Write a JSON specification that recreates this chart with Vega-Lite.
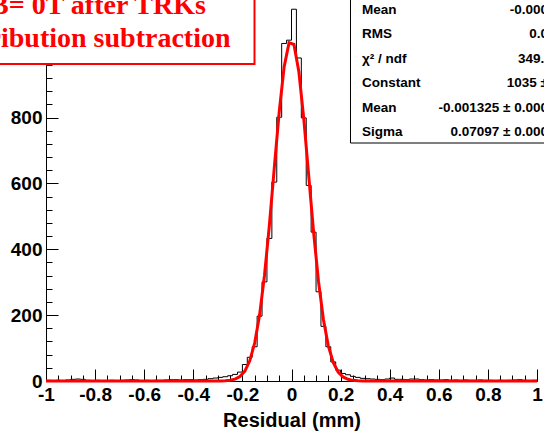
{
  "$schema": "https://vega.github.io/schema/vega-lite/v6.json",
  "width": 491,
  "height": 381,
  "autosize": "none",
  "padding": {"left": 46, "top": 0, "right": 7, "bottom": 51},
  "background": "white",
  "config": {"view": {"stroke": null}},
  "resolve": {"axis": {"x": "independent", "y": "independent"}},
  "datasets": {
    "hist": [
      {"x": -1.00, "n": 2}, {"x": -0.98, "n": 1}, {"x": -0.96, "n": 2}, {"x": -0.94, "n": 1}, {"x": -0.92, "n": 3},
      {"x": -0.90, "n": 5}, {"x": -0.88, "n": 6}, {"x": -0.86, "n": 5}, {"x": -0.84, "n": 2}, {"x": -0.82, "n": 1},
      {"x": -0.80, "n": 2}, {"x": -0.78, "n": 1}, {"x": -0.76, "n": 1}, {"x": -0.74, "n": 2}, {"x": -0.72, "n": 1},
      {"x": -0.70, "n": 2}, {"x": -0.68, "n": 3}, {"x": -0.66, "n": 4}, {"x": -0.64, "n": 3}, {"x": -0.62, "n": 1},
      {"x": -0.60, "n": 2}, {"x": -0.58, "n": 1}, {"x": -0.56, "n": 2}, {"x": -0.54, "n": 2}, {"x": -0.52, "n": 3},
      {"x": -0.50, "n": 4}, {"x": -0.48, "n": 4}, {"x": -0.46, "n": 3}, {"x": -0.44, "n": 4}, {"x": -0.42, "n": 4},
      {"x": -0.40, "n": 3}, {"x": -0.38, "n": 4}, {"x": -0.36, "n": 5}, {"x": -0.34, "n": 7}, {"x": -0.32, "n": 9},
      {"x": -0.30, "n": 11}, {"x": -0.28, "n": 13}, {"x": -0.26, "n": 16}, {"x": -0.24, "n": 20}, {"x": -0.22, "n": 27},
      {"x": -0.20, "n": 50}, {"x": -0.18, "n": 72}, {"x": -0.16, "n": 104}, {"x": -0.14, "n": 197}, {"x": -0.12, "n": 301},
      {"x": -0.10, "n": 433}, {"x": -0.08, "n": 604}, {"x": -0.06, "n": 801}, {"x": -0.04, "n": 1025}, {"x": -0.02, "n": 1035},
      {"x": 0.00, "n": 1129}, {"x": 0.02, "n": 981}, {"x": 0.04, "n": 799}, {"x": 0.06, "n": 594}, {"x": 0.08, "n": 452},
      {"x": 0.10, "n": 271}, {"x": 0.12, "n": 166}, {"x": 0.14, "n": 104}, {"x": 0.16, "n": 58}, {"x": 0.18, "n": 33},
      {"x": 0.20, "n": 23}, {"x": 0.22, "n": 19}, {"x": 0.24, "n": 14}, {"x": 0.26, "n": 11}, {"x": 0.28, "n": 8},
      {"x": 0.30, "n": 7}, {"x": 0.32, "n": 6}, {"x": 0.34, "n": 5}, {"x": 0.36, "n": 4}, {"x": 0.38, "n": 6},
      {"x": 0.40, "n": 9}, {"x": 0.42, "n": 5}, {"x": 0.44, "n": 5}, {"x": 0.46, "n": 4}, {"x": 0.48, "n": 6},
      {"x": 0.50, "n": 6}, {"x": 0.52, "n": 4}, {"x": 0.54, "n": 3}, {"x": 0.56, "n": 4}, {"x": 0.58, "n": 3},
      {"x": 0.60, "n": 3}, {"x": 0.62, "n": 4}, {"x": 0.64, "n": 2}, {"x": 0.66, "n": 3}, {"x": 0.68, "n": 2},
      {"x": 0.70, "n": 3}, {"x": 0.72, "n": 2}, {"x": 0.74, "n": 2}, {"x": 0.76, "n": 3}, {"x": 0.78, "n": 2},
      {"x": 0.80, "n": 2}, {"x": 0.82, "n": 1}, {"x": 0.84, "n": 2}, {"x": 0.86, "n": 1}, {"x": 0.88, "n": 2},
      {"x": 0.90, "n": 3}, {"x": 0.92, "n": 4}, {"x": 0.94, "n": 2}, {"x": 0.96, "n": 1}, {"x": 0.98, "n": 2},
      {"x": 1.00, "n": 2}
    ],
    "fit": [
      {"x": -1.00, "f": 0}, {"x": -0.33, "f": 0.02}, {"x": -0.31, "f": 0.08}, {"x": -0.29, "f": 0.26},
      {"x": -0.27, "f": 0.8}, {"x": -0.25, "f": 2.23}, {"x": -0.23, "f": 5.76}, {"x": -0.21, "f": 13.7},
      {"x": -0.19, "f": 30.2}, {"x": -0.17, "f": 61.4}, {"x": -0.15, "f": 115.3}, {"x": -0.13, "f": 200.1},
      {"x": -0.11, "f": 320.5}, {"x": -0.09, "f": 474.2}, {"x": -0.07, "f": 648.1}, {"x": -0.05, "f": 818.1},
      {"x": -0.03, "f": 953.9}, {"x": -0.01, "f": 1027.3}, {"x": 0.01, "f": 1021.9}, {"x": 0.03, "f": 938.9},
      {"x": 0.05, "f": 796.8}, {"x": 0.07, "f": 624.6}, {"x": 0.09, "f": 452.3}, {"x": 0.11, "f": 302.4},
      {"x": 0.13, "f": 186.8}, {"x": 0.15, "f": 106.6}, {"x": 0.17, "f": 56.2}, {"x": 0.19, "f": 27.3},
      {"x": 0.21, "f": 12.3}, {"x": 0.23, "f": 5.1}, {"x": 0.25, "f": 1.96}, {"x": 0.27, "f": 0.69},
      {"x": 0.29, "f": 0.23}, {"x": 0.31, "f": 0.07}, {"x": 0.33, "f": 0.02}, {"x": 1.00, "f": 0}
    ]
  },
  "layer": [
    {
      "data": {"name": "hist"},
      "mark": {"type": "line", "interpolate": "step-after", "color": "#000000", "strokeWidth": 1},
      "encoding": {
        "x": {
          "field": "x", "type": "quantitative",
          "scale": {"domain": [-1, 1], "nice": false, "zero": false},
          "axis": {
            "orient": "bottom",
            "values": [-1, -0.8, -0.6, -0.4, -0.2, 0, 0.2, 0.4, 0.6, 0.8, 1],
            "grid": false,
            "domainColor": "#000000", "domainWidth": 1,
            "tickColor": "#000000", "tickWidth": 1, "tickSize": -12,
            "labelExpr": "datum.value + ''",
            "labelFont": "Liberation Sans", "labelFontWeight": "bold", "labelFontSize": 19, "labelColor": "#000000",
            "labelPadding": 16, "labelFlush": false, "labelOverlap": false, "labelBaseline": "top",
            "title": "Residual (mm)",
            "titleFont": "Liberation Sans", "titleFontWeight": "bold", "titleFontSize": 20, "titleColor": "#000000",
            "titleBaseline": "alphabetic", "titleY": 45
          }
        },
        "y": {
          "field": "n", "type": "quantitative",
          "scale": {"domain": [0, 1157], "nice": false},
          "axis": {
            "orient": "left",
            "values": [0, 200, 400, 600, 800, 1000],
            "grid": false,
            "domainColor": "#000000", "domainWidth": 1,
            "tickColor": "#000000", "tickWidth": 1, "tickSize": -12,
            "labelExpr": "datum.value + ''",
            "labelFont": "Liberation Sans", "labelFontWeight": "bold", "labelFontSize": 19, "labelColor": "#000000",
            "labelPadding": 16, "labelOverlap": false, "labelFlush": false,
            "title": null
          }
        }
      }
    },
    {
      "data": {"name": "fit"},
      "mark": {"type": "line", "color": "#ff0000", "strokeWidth": 3},
      "encoding": {
        "x": {
          "field": "x", "type": "quantitative",
          "axis": {
            "orient": "bottom",
            "values": [-0.95, -0.9, -0.85, -0.75, -0.7, -0.65, -0.55, -0.5, -0.45, -0.35, -0.3, -0.25, -0.15, -0.1, -0.05, 0.05, 0.1, 0.15, 0.25, 0.3, 0.35, 0.45, 0.5, 0.55, 0.65, 0.7, 0.75, 0.85, 0.9, 0.95],
            "grid": false, "domain": false, "labels": false, "title": null,
            "tickColor": "#000000", "tickWidth": 1, "tickSize": -6
          }
        },
        "y": {
          "field": "f", "type": "quantitative",
          "axis": {
            "orient": "left",
            "values": [40, 80, 120, 160, 240, 280, 320, 360, 440, 480, 520, 560, 640, 680, 720, 760, 840, 880, 920, 960, 1040, 1080, 1120],
            "grid": false, "domain": false, "labels": false, "title": null,
            "tickColor": "#000000", "tickWidth": 1, "tickSize": -6
          }
        }
      }
    },
    {
      "data": {"values": [{}]},
      "mark": {"type": "rect", "fill": "#ffffff", "stroke": "#ff0000", "strokeWidth": 2},
      "encoding": {
        "x": {"datum": -1.5, "axis": null}, "x2": {"datum": -0.1507},
        "y": {"datum": 1250, "axis": null}, "y2": {"datum": 962.6}
      }
    },
    {
      "data": {"values": [{}]},
      "mark": {"type": "text", "text": "B= 0T after TRKs", "font": "Liberation Serif", "fontWeight": "bold", "fontSize": 28, "color": "#ff0000", "align": "left", "baseline": "alphabetic"},
      "encoding": {"x": {"datum": -1.2281, "axis": null}, "y": {"datum": 1114.5, "axis": null}}
    },
    {
      "data": {"values": [{}]},
      "mark": {"type": "text", "text": "distribution subtraction", "font": "Liberation Serif", "fontWeight": "bold", "fontSize": 28, "color": "#ff0000", "align": "left", "baseline": "alphabetic"},
      "encoding": {"x": {"datum": -1.4114, "axis": null}, "y": {"datum": 1014.3, "axis": null}}
    },
    {
      "data": {"values": [{}]},
      "mark": {"type": "rect", "fill": "#ffffff", "stroke": "#000000", "strokeWidth": 1},
      "encoding": {
        "x": {"datum": 0.2403, "axis": null}, "x2": {"datum": 1.3},
        "y": {"datum": 1250, "axis": null}, "y2": {"datum": 722.7}
      }
    },
    {
      "data": {"values": [{}]},
      "mark": {"type": "text", "text": ["Mean", "RMS", "χ² / ndf", "Constant", "Mean", "Sigma"], "lineHeight": 24.5, "font": "Liberation Sans", "fontWeight": "bold", "fontSize": 13.5, "color": "#000000", "align": "left", "baseline": "top"},
      "encoding": {"x": {"datum": 0.2872, "axis": null}, "y": {"datum": 1149, "axis": null}}
    },
    {
      "data": {"values": [{}]},
      "mark": {"type": "text", "text": ["-0.0004871", "0.07943", "349.2 / 97", "1035 ± 4.51", "-0.001325 ± 0.0002373", "0.07097 ± 0.0002051"], "lineHeight": 24.5, "font": "Liberation Sans", "fontWeight": "bold", "fontSize": 13.5, "color": "#000000", "align": "right", "baseline": "top"},
      "encoding": {"x": {"datum": 1.167, "axis": null}, "y": {"datum": 1149, "axis": null}}
    }
  ]
}
